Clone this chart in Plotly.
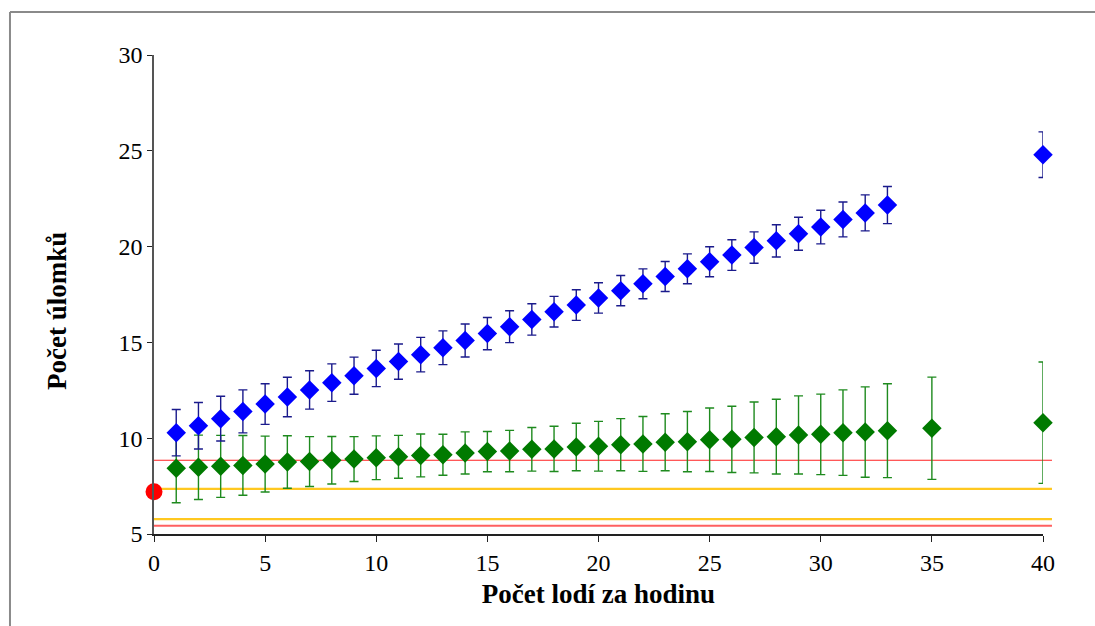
import plotly.graph_objects as go

# ---- data ----
x_blue = list(range(1, 34)) + [40]
y_blue = [10.29, 10.65, 11.02, 11.40, 11.78, 12.15, 12.52, 12.90, 13.26, 13.64,
          14.00, 14.36, 14.72, 15.10, 15.46, 15.82, 16.20, 16.60, 16.95, 17.32,
          17.70, 18.06, 18.44, 18.84, 19.21, 19.56, 19.95, 20.30, 20.67, 21.02,
          21.42, 21.76, 22.17, 24.80]
e_blue = [1.21, 1.21, 1.17, 1.12, 1.06, 1.03, 1.00, 0.98, 0.97, 0.95,
          0.92, 0.90, 0.88, 0.86, 0.84, 0.83, 0.82, 0.80, 0.80, 0.79,
          0.79, 0.78, 0.78, 0.78, 0.78, 0.80, 0.82, 0.84, 0.86, 0.88,
          0.91, 0.94, 0.97, 1.19]

x_green = list(range(1, 34)) + [35, 40]
y_green = [8.43, 8.48, 8.53, 8.58, 8.65, 8.76, 8.78, 8.85, 8.91, 8.98,
           9.03, 9.10, 9.14, 9.23, 9.30, 9.33, 9.42, 9.44, 9.54, 9.58,
           9.66, 9.70, 9.79, 9.82, 9.92, 9.94, 10.04, 10.08, 10.17, 10.20,
           10.29, 10.32, 10.39, 10.52, 10.81]
e_green = [1.80, 1.68, 1.62, 1.56, 1.46, 1.37, 1.30, 1.24, 1.17, 1.14,
           1.12, 1.12, 1.07, 1.10, 1.05, 1.08, 1.14, 1.18, 1.24, 1.30,
           1.36, 1.43, 1.49, 1.57, 1.66, 1.73, 1.85, 1.95, 2.04, 2.10,
           2.23, 2.36, 2.45, 2.67, 3.17]

ref_point_x = [0]
ref_point_y = [7.2]

hlines_y = [8.85, 7.35, 5.78, 5.43]
hlines_color = ["#FF2020", "#FFC820", "#FFC820", "#FF6060"]
hlines_width = [1.2, 2.2, 2.2, 2.0]

x_ticks = [0, 5, 10, 15, 20, 25, 30, 35, 40]
y_ticks = [5, 10, 15, 20, 25, 30]

x_title = "Počet lodí za hodinu"
y_title = "Počet úlomků"

serif = "Liberation Serif, Times New Roman, serif"

fig = go.Figure()

fig.add_trace(go.Scatter(
    x=x_green, y=y_green, mode="markers",
    marker=dict(symbol="diamond", size=15, color="#007A00"),
    error_y=dict(type="data", array=e_green, visible=True,
                 color="#1E8A1E", thickness=1.4, width=4.5),
    showlegend=False, cliponaxis=False))

fig.add_trace(go.Scatter(
    x=x_blue, y=y_blue, mode="markers",
    marker=dict(symbol="diamond", size=15, color="#0000FF"),
    error_y=dict(type="data", array=e_blue, visible=True,
                 color="#1A1A8C", thickness=1.4, width=4.5),
    showlegend=False, cliponaxis=False))

fig.add_trace(go.Scatter(
    x=ref_point_x, y=ref_point_y, mode="markers",
    marker=dict(symbol="circle", size=17, color="#FF0000"),
    showlegend=False, cliponaxis=False))

shapes = []
for yv, c, w in zip(hlines_y, hlines_color, hlines_width):
    shapes.append(dict(type="line", xref="paper", yref="y",
                       x0=0, x1=1.0101, y0=yv, y1=yv,
                       line=dict(color=c, width=w), layer="below"))

# outer frame (top and left)
shapes.append(dict(type="line", xref="paper", yref="paper",
                   x0=-0.162, x1=1.1, y0=1.0898, y1=1.0898,
                   line=dict(color="#8A8A8A", width=2)))
shapes.append(dict(type="line", xref="paper", yref="paper",
                   x0=-0.162, x1=-0.162, y0=-0.3, y1=1.0898,
                   line=dict(color="#8A8A8A", width=2)))

fig.update_layout(
    width=1095, height=626,
    margin=dict(l=154, r=52, t=55, b=92),
    paper_bgcolor="white", plot_bgcolor="white",
    shapes=shapes,
    font=dict(family=serif, color="black", size=24),
    xaxis=dict(range=[0, 40], tickvals=x_ticks, ticks="outside", ticklen=6,
               tickcolor="#222", showline=True, linecolor="#222", linewidth=1.5,
               showgrid=False, zeroline=False,
               tickfont=dict(family=serif, size=24, color="black"),
               title=dict(text="<b>" + x_title + "</b>",
                          font=dict(family=serif, size=27, color="black"),
                          standoff=10)),
    yaxis=dict(range=[5, 30], tickvals=y_ticks, ticks="outside", ticklen=5,
               tickcolor="#222", showline=True, linecolor="#555", linewidth=1.5,
               showgrid=False, zeroline=False,
               tickfont=dict(family=serif, size=24, color="black")),
    annotations=[dict(text="<b>" + y_title + "</b>", textangle=-90,
                      xref="paper", yref="paper", x=-0.109, y=0.466,
                      xanchor="center", yanchor="middle", showarrow=False,
                      font=dict(family=serif, size=27, color="black"))],
)

fig.write_html("out.html")
